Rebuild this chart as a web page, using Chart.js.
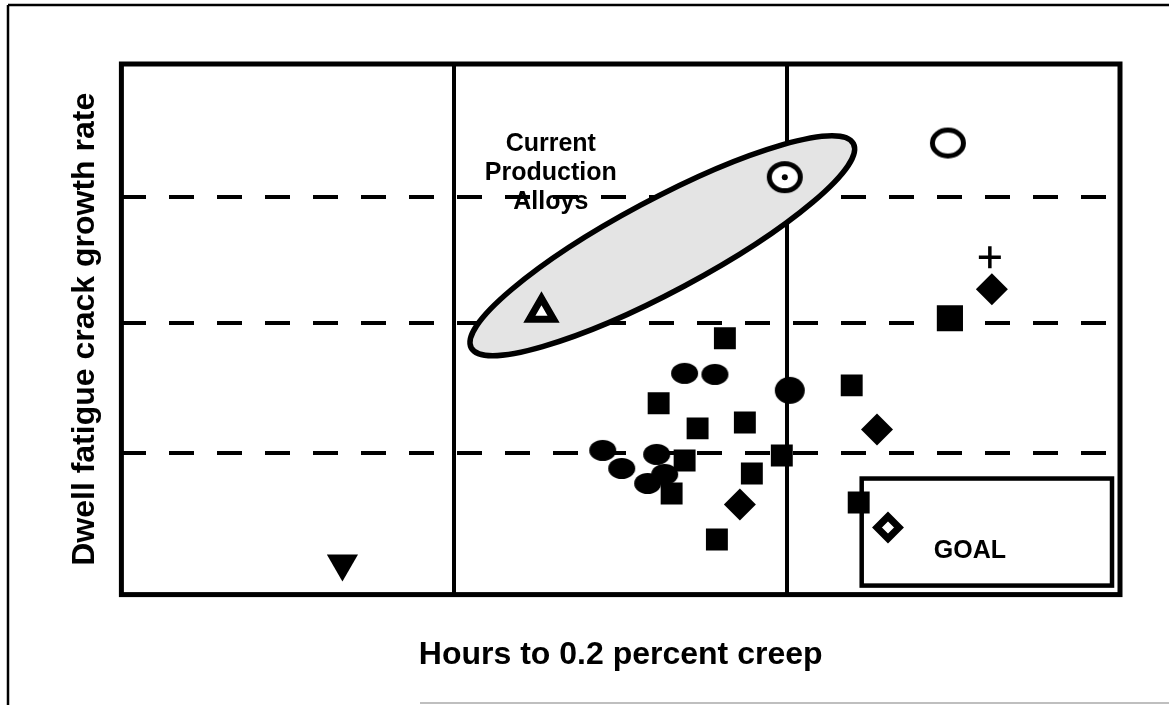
<!DOCTYPE html>
<html>
<head>
<meta charset="utf-8">
<title>Dwell fatigue crack growth rate vs creep</title>
<script src="https://cdn.jsdelivr.net/npm/chart.js@4.4.0/dist/chart.umd.min.js"></script>
<style>
    html, body { margin: 0; padding: 0; background: #fff; }
    #wrap { position: relative; width: 1169px; height: 705px; }
</style>
</head>
<body>
<div id="wrap"><canvas id="creepChart"></canvas></div>
<script>
// no tick labels on the original, so the axes run in plain relative units
const xRange = [0, 3];
const yRange = [0, 4];
const xDividers = [1, 2];
const yDividers = [1.07, 2.05, 3.0];

// [hours to creep, crack growth rate]
const filledSquares = [
    [1.813, 1.932], [1.614, 1.442], [1.731, 1.253], [1.873, 1.298],
    [1.692, 1.011], [1.894, 0.913], [1.653, 0.762], [1.789, 0.415],
    [2.194, 1.577], [1.984, 1.049], [2.215, 0.694]
];
const largeSquare = [[2.489, 2.083]];
const filledCircles = [
    [1.692, 1.668], [1.783, 1.660], [1.446, 1.087], [1.503, 0.951],
    [1.608, 1.057], [1.581, 0.838], [1.632, 0.906]
];
const largeCircle = [[2.008, 1.540]];
const filledDiamonds = [[1.858, 0.679], [2.270, 1.245], [2.615, 2.302]];
const openDiamond = [[2.303, 0.506]];
const plusMark = [[2.609, 2.543]];
const openCircle = [[2.483, 3.404]];
const dottedCircle = [[1.993, 3.147]];
const openTriangle = [[1.262, 2.128]];
const downTriangle = [[0.664, 0.234]];

// shaded "current production alloys" band, given by its two tips
const ellipseTipA = [1.051, 1.860];
const ellipseTipB = [2.199, 3.400];
const ellipseHalfWidth = 46;

const goalBox = [[2.224, 0.068], [2.976, 0.875]];
const goalLabel = { text: 'GOAL', at: [2.549, 0.325] };
const productionLabel = { lines: ['Current', 'Production', 'Alloys'], at: [1.290, 3.180] };

const BOLD = '"Liberation Sans", Arial, Helvetica, sans-serif';

function toXY(list) {
    return list.map(p => ({ x: p[0], y: p[1] }));
}

// the scanned circles are a little wider than tall, so draw them as small oval images
function ovalMark(w, h, filled, lineW) {
    const c = document.createElement('canvas');
    c.width = w + 2;
    c.height = h + 2;
    const g = c.getContext('2d');
    g.beginPath();
    g.ellipse(c.width / 2, c.height / 2, w / 2 - lineW / 2, h / 2 - lineW / 2, 0, 0, Math.PI * 2);
    g.fillStyle = filled ? '#000' : '#fff';
    g.fill();
    if (lineW > 0) {
        g.lineWidth = lineW;
        g.strokeStyle = '#000';
        g.stroke();
    }
    return c;
}

function marks(label, list, style) {
    return Object.assign({
        label: label,
        data: toXY(list),
        showLine: false,
        backgroundColor: '#000',
        borderColor: '#000',
        borderWidth: 0,
        order: 0
    }, style);
}

const sketchExtras = {
    id: 'sketchExtras',
    beforeDraw(chart) {
        const ctx = chart.ctx;
        ctx.save();
        ctx.strokeStyle = '#000';
        ctx.lineWidth = 2.5;
        ctx.beginPath();
        ctx.moveTo(8, 5);
        ctx.lineTo(1169, 5);
        ctx.moveTo(8, 5);
        ctx.lineTo(8, 705);
        ctx.stroke();
        ctx.strokeStyle = '#aaa';
        ctx.lineWidth = 1.5;
        ctx.beginPath();
        ctx.moveTo(420, 703);
        ctx.lineTo(1169, 703);
        ctx.stroke();
        ctx.restore();
    },
    beforeDatasetsDraw(chart) {
        const { ctx, scales: { x, y } } = chart;
        const ax = x.getPixelForValue(ellipseTipA[0]), ay = y.getPixelForValue(ellipseTipA[1]);
        const bx = x.getPixelForValue(ellipseTipB[0]), by = y.getPixelForValue(ellipseTipB[1]);
        ctx.save();
        ctx.beginPath();
        ctx.ellipse((ax + bx) / 2, (ay + by) / 2, Math.hypot(bx - ax, by - ay) / 2,
            ellipseHalfWidth, Math.atan2(by - ay, bx - ax), 0, Math.PI * 2);
        ctx.fillStyle = '#e4e4e4';
        ctx.fill();
        ctx.lineWidth = 5.5;
        ctx.strokeStyle = '#000';
        ctx.stroke();

        // goal region
        const gx1 = x.getPixelForValue(goalBox[0][0]), gy1 = y.getPixelForValue(goalBox[0][1]);
        const gx2 = x.getPixelForValue(goalBox[1][0]), gy2 = y.getPixelForValue(goalBox[1][1]);
        ctx.fillStyle = '#fff';
        ctx.fillRect(gx1, gy2, gx2 - gx1, gy1 - gy2);
        ctx.lineWidth = 4.5;
        ctx.strokeRect(gx1, gy2, gx2 - gx1, gy1 - gy2);
        ctx.restore();
    },
    afterDatasetsDraw(chart) {
        const { ctx, chartArea: a, scales: { x, y } } = chart;
        ctx.save();
        ctx.strokeStyle = '#000';
        ctx.lineWidth = 5;
        ctx.strokeRect(a.left, a.top, a.right - a.left, a.bottom - a.top);

        ctx.fillStyle = '#000';
        ctx.font = 'bold 25px ' + BOLD;
        ctx.textAlign = 'center';
        ctx.textBaseline = 'middle';
        const px = x.getPixelForValue(productionLabel.at[0]);
        const py = y.getPixelForValue(productionLabel.at[1]);
        productionLabel.lines.forEach((t, i) => {
            ctx.fillText(t, px, py + (i - 1) * 29);
        });
        ctx.fillText(goalLabel.text, x.getPixelForValue(goalLabel.at[0]), y.getPixelForValue(goalLabel.at[1]));
        ctx.restore();
    }
};

const canvas = document.getElementById('creepChart');
window.creepChart = new Chart(canvas, {
    type: 'scatter',
    data: {
        datasets: [
            marks('dot', dottedCircle, { pointStyle: 'circle', pointRadius: 3 }),
            marks('dotted circle', dottedCircle, { pointStyle: ovalMark(36, 32, false, 5), pointRadius: 16, order: 1 }),
            marks('open circle', openCircle, { pointStyle: ovalMark(36, 31, false, 5), pointRadius: 16 }),
            marks('plus', plusMark, { pointStyle: 'cross', pointRadius: 11, borderWidth: 3.5 }),
            marks('open triangle', openTriangle, { pointStyle: 'triangle', pointRadius: 14, borderWidth: 7, backgroundColor: '#fff' }),
            marks('down triangle', downTriangle, { pointStyle: 'triangle', pointRadius: 18, rotation: 180 }),
            marks('open diamond', openDiamond, { pointStyle: 'rectRot', pointRadius: 11, borderWidth: 7, backgroundColor: '#fff' }),
            marks('filled diamonds', filledDiamonds, { pointStyle: 'rectRot', pointRadius: 16 }),
            marks('large circle', largeCircle, { pointStyle: ovalMark(30, 27, true, 0), pointRadius: 15 }),
            marks('filled circles', filledCircles, { pointStyle: ovalMark(27, 21, true, 0), pointRadius: 13 }),
            marks('large square', largeSquare, { pointStyle: 'rect', pointRadius: 18.5 }),
            marks('filled squares', filledSquares, { pointStyle: 'rect', pointRadius: 15.5 })
        ]
    },
    options: {
        responsive: true,
        maintainAspectRatio: false,
        animation: false,
        layout: {
            padding: { left: 66, top: 64, right: 49, bottom: 31 }
        },
        plugins: {
            legend: { display: false },
            tooltip: { enabled: false }
        },
        scales: {
            x: {
                type: 'linear',
                min: xRange[0],
                max: xRange[1],
                afterBuildTicks: s => { s.ticks = xDividers.map(v => ({ value: v })); },
                ticks: { display: false },
                grid: { color: '#000', lineWidth: 4, drawTicks: false },
                border: { display: false },
                title: {
                    display: true,
                    text: 'Hours to 0.2 percent creep',
                    color: '#000',
                    font: { family: BOLD, size: 32, weight: 'bold' },
                    padding: { top: 41, bottom: 0 }
                }
            },
            y: {
                type: 'linear',
                min: yRange[0],
                max: yRange[1],
                afterBuildTicks: s => { s.ticks = yDividers.map(v => ({ value: v })); },
                ticks: { display: false },
                grid: { color: '#000', lineWidth: 4, drawTicks: false },
                border: { display: false, dash: [25, 23] },
                title: {
                    display: true,
                    text: 'Dwell fatigue crack growth rate',
                    color: '#000',
                    font: { family: BOLD, size: 32, weight: 'bold' },
                    padding: { top: 0, bottom: 17 }
                }
            }
        }
    },
    plugins: [sketchExtras]
});
</script>
</body>
</html>
